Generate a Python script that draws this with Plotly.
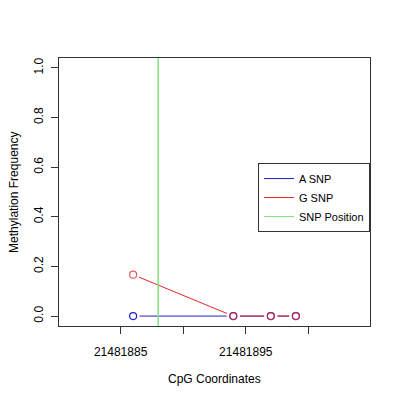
import plotly.graph_objects as go

# CpG positions and methylation frequencies
cpg_pos = [21481886, 21481894, 21481897, 21481899]
a_snp = [0.0, 0.0, 0.0, 0.0]
g_snp = [1 / 6, 0.0, 0.0, 0.0]
snp_pos = 21481888

x_range = [21481880.08, 21481904.92]
y_range = [-0.04, 1.04]
x_ticks = [21481885, 21481890, 21481895, 21481900]
x_tick_text = ["21481885", "", "21481895", ""]
y_ticks = [0.0, 0.2, 0.4, 0.6, 0.8, 1.0]

blue = "#2020C8"
red = "#E02828"
green = "#80E080"
font_fam = "Liberation Sans, Arial, sans-serif"


def main():
    fig = go.Figure()

    # lines first
    fig.add_scatter(x=cpg_pos, y=a_snp, mode="lines", line=dict(color=blue, width=1),
                    name="A SNP")
    fig.add_scatter(x=cpg_pos, y=g_snp, mode="lines", line=dict(color=red, width=1),
                    name="G SNP")
    fig.add_scatter(x=[None], y=[None], mode="lines", line=dict(color=green, width=1),
                    name="SNP Position")

    # white disks give the R type="b" gap around points
    for ys in (a_snp, g_snp):
        fig.add_scatter(x=cpg_pos, y=ys, mode="markers", showlegend=False,
                        marker=dict(color="white", size=13, line=dict(width=0)),
                        hoverinfo="skip")
    fig.add_scatter(x=cpg_pos, y=a_snp, mode="markers", showlegend=False,
                    marker=dict(symbol="circle-open", color=blue, size=7,
                                line=dict(width=1.2)))
    fig.add_scatter(x=cpg_pos, y=g_snp, mode="markers", showlegend=False,
                    marker=dict(symbol="circle-open", color=red, size=7,
                                line=dict(width=1.2), opacity=0.75))

    fig.add_vline(x=snp_pos, line=dict(color=green, width=1.5))

    axis_common = dict(showline=True, mirror=True, linecolor="#333333", linewidth=1,
                       ticks="outside", ticklen=7, tickcolor="#333333",
                       showgrid=False, zeroline=False, automargin=False,
                       tickfont=dict(family=font_fam, size=12, color="black"))

    # page body adds an 8px offset, so the figure is a little smaller
    fig.update_layout(
        width=392, height=392,
        margin=dict(l=51, r=30, t=50, b=74),
        plot_bgcolor="white", paper_bgcolor="white",
        font=dict(family=font_fam, size=12, color="black"),
        xaxis=dict(range=x_range, tickvals=x_ticks, ticktext=x_tick_text,
                   ticklabelstandoff=8, **axis_common),
        yaxis=dict(range=y_range, tickvals=y_ticks, tickformat=".1f", tickangle=-90,
                   ticklabelstandoff=3, **axis_common),
        legend=dict(x=1.0, y=0.608, xanchor="right", yanchor="top",
                    bordercolor="#333333", borderwidth=1, bgcolor="white",
                    font=dict(size=11), itemwidth=30, tracegroupgap=0),
        showlegend=True,
    )

    fig.add_annotation(text="CpG Coordinates", xref="paper", yref="paper",
                       x=0.5, y=-0.198, yanchor="middle", showarrow=False,
                       font=dict(size=12))
    fig.add_annotation(text="Methylation Frequency", xref="paper", yref="paper",
                       x=-0.145, y=0.5, xanchor="center", showarrow=False,
                       textangle=-90, font=dict(size=12))

    fig.write_html("out.html")


if __name__ == "__main__":
    main()
